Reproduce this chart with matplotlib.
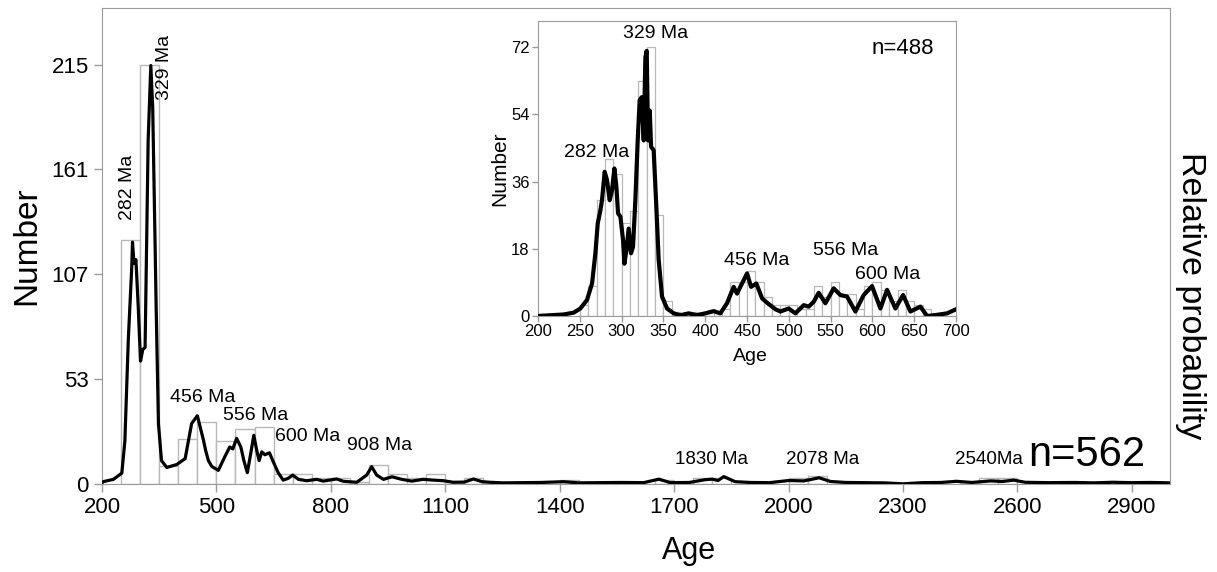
import matplotlib
matplotlib.use('Agg')
import matplotlib.pyplot as plt

plt.rcParams['font.family'] = ['Liberation Sans', 'DejaVu Sans']

# histogram principal (classes de 50 Ma, borda esquerda)
main_bin_left = [250, 300, 350, 400, 450, 500, 550, 600, 650, 700, 750, 800, 850, 900,
                 950, 1000, 1050, 1100, 1150, 1200, 1400, 1650, 1750, 1800, 2000, 2050,
                 2450, 2500, 2550]
main_counts = [125, 215, 9, 23, 32, 22, 28, 29, 5, 5, 3, 3, 1, 10,
               5, 3, 5, 1, 3, 1, 2, 2, 3, 3, 3, 4,
               1, 3, 3]

# curva de probabilidade relativa (escala do eixo Number)
main_curve_age = [200, 203, 230, 252, 260, 269, 278, 280, 284, 289, 295, 301, 307, 313,
                  321, 328, 333, 342, 348, 356, 370, 396, 418, 435, 450, 466, 472, 479,
                  488, 505, 522, 535, 543, 553, 564, 572, 581, 590, 598, 606, 612, 619,
                  627, 639, 649, 662, 675, 688, 700, 715, 737, 763, 780, 815, 833, 868,
                  894, 907, 920, 938, 960, 986, 1012, 1042, 1069, 1095, 1121, 1150, 1174,
                  1196, 1217, 1250, 1300, 1350, 1410, 1450, 1500, 1560, 1620, 1660, 1690,
                  1740, 1780, 1800, 1815, 1830, 1860, 1900, 1950, 2000, 2040, 2080, 2110,
                  2150, 2200, 2250, 2300, 2350, 2400, 2440, 2480, 2530, 2560, 2590, 2620,
                  2680, 2750, 2800, 2850, 2900, 2950, 3000]
main_curve_val = [0.5, 1.2, 2.4, 5.6, 22, 74, 111, 124, 113, 115, 91, 63, 69, 70,
                  176, 214.5, 193, 91, 31, 12, 8.5, 10, 13, 31, 35, 22.5, 17, 12,
                  9, 7, 14, 19, 18, 23.4, 19, 12, 5.8, 15.7, 25, 17, 12, 16.5,
                  15, 16, 11.4, 5.8, 2, 2.9, 4.6, 2.4, 1.7, 2.4, 1.5, 2.6, 1.4, 0.9,
                  4.6, 8.9, 4.6, 2.4, 3.7, 2.4, 1.5, 2.4, 2, 1.7, 0.9, 1.0, 2.6,
                  1.2, 0.9, 0.6, 0.7, 0.8, 1.2, 0.6, 0.7, 0.8, 0.7, 2.5, 0.7,
                  0.8, 2.2, 2.5, 1.8, 3.8, 1.2, 0.8, 0.7, 1.8, 1.6, 3.2, 1.3,
                  0.8, 0.7, 0.6, 0.1, 0.7, 0.8, 1.4, 0.8, 1.6, 1.3, 2.0, 0.9,
                  0.7, 0.8, 0.6, 0.9, 0.7, 0.8, 0.6]

main_yticks = [0, 53.75, 107.5, 161.25, 215]
main_yticklabels = ['0', '53', '107', '161', '215']
main_xticks = [200, 500, 800, 1100, 1400, 1700, 2000, 2300, 2600, 2900]

# detalhe 200-700 Ma (classes de 10 Ma)
inset_bin_left = [250, 260, 270, 280, 290, 300, 310, 320, 330, 340, 350, 360, 380, 390,
                  400, 410, 420, 430, 440, 450, 460, 470, 480, 490, 500, 510, 520, 530,
                  540, 550, 560, 570, 580, 590, 600, 610, 620, 630, 640, 650, 660]
inset_counts = [3, 8, 31, 42, 38, 25, 28, 63, 72, 27, 4, 1, 1, 1,
                1, 1, 2, 9, 9, 12, 9, 5, 3, 3, 3, 2, 2, 8,
                5, 9, 6, 6, 2, 8, 9, 7, 4, 7, 4, 3, 2]

inset_curve_age = [200, 230.7, 242.7, 250.6, 258.6, 264.6, 268.6, 271.4, 274.6, 276.5,
                   279.7, 282.5, 285.7, 288.5, 291.3, 293.7, 295.7, 298.5, 301.7, 303.3,
                   305.7, 308.4, 311.2, 313.6, 316.4, 319.2, 321.6, 324, 326.4, 328.4,
                   330, 331.6, 333.6, 335.2, 338.3, 341.5, 344.3, 348.3, 354.3, 362.3,
                   370.2, 380.2, 390.2, 400.1, 410.1, 418, 426, 434, 438, 444, 450,
                   454.8, 461.1, 468, 474.7, 483.9, 489.9, 499.8, 507.8, 517.8, 523.7,
                   529.7, 535.7, 543.7, 553.6, 561.6, 569.6, 579.6, 589.5, 599.5, 609.5,
                   617.4, 627.4, 636.6, 645.4, 657.3, 665.3, 677.2, 689.2, 700]
inset_curve_val = [0, 0.4, 0.9, 2, 4.3, 8.7, 16.8, 24.8, 28.3, 31,
                   38.6, 36.4, 31, 33.7, 39.5, 34.6, 27.5, 26.6, 20.3, 14,
                   17.6, 23.4, 16.8, 18.5, 31, 47, 57.8, 58.6, 47, 69.3,
                   71, 47, 55, 45.3, 44.4, 29.2, 15, 5.2, 2, 0.7,
                   0.2, 0.7, 0.2, 0.7, 1.3, 0.7, 3.4, 7.8, 6, 8.7, 11.4,
                   7.8, 8.7, 4.7, 3.4, 1.8, 1.2, 2, 0.7, 2.9, 2.5,
                   3.8, 6.2, 3.4, 7.4, 5.6, 5.2, 1.2, 5.6, 8, 2,
                   7, 2, 5.6, 1.2, 2.5, 0, 0.3, 0.7, 1.8]

inset_yticks = [0, 18, 36, 54, 72]
inset_xticks = [200, 250, 300, 350, 400, 450, 500, 550, 600, 650, 700]

frame_color = '#9a9a9a'
bar_edge = '#b8b8b8'

fig = plt.figure(figsize=(12.17, 5.72), dpi=100)

# --- grafico principal ---
ax = fig.add_axes([0.0838, 0.1538, 0.8776, 0.8322])
ax.bar(main_bin_left, main_counts, width=50, align='edge', color='white',
       edgecolor=bar_edge, linewidth=1.0, zorder=1)
ax.plot(main_curve_age, main_curve_val, color='black', linewidth=2.3, zorder=3)
ax.set_xlim(200, 3000)
ax.set_ylim(0, 244)
ax.set_xticks(main_xticks)
ax.set_yticks(main_yticks)
ax.set_yticklabels(main_yticklabels)
ax.tick_params(axis='both', labelsize=16, color=frame_color, length=6, width=1)
for s in ax.spines.values():
    s.set_color(frame_color)
ax.set_ylabel('Number', fontsize=24)
ax.yaxis.set_label_coords(-0.056, 0.5)
ax.set_xlabel('Age', fontsize=22)
ax.xaxis.set_label_coords(0.55, -0.11)
fig.text(0.978, 0.484, 'Relative probability', fontsize=24.5, rotation=270,
         ha='center', va='center')

ax.text(267, 152, '282 Ma', fontsize=14, rotation=90, ha='center', va='center')
ax.text(363, 213.5, '329 Ma', fontsize=14, rotation=90, ha='center', va='center')
ax.text(465, 44.5, '456 Ma', fontsize=14, ha='center', va='center')
ax.text(604, 35, '556 Ma', fontsize=14, ha='center', va='center')
ax.text(740, 24.6, '600 Ma', fontsize=14, ha='center', va='center')
ax.text(929, 20, '908 Ma', fontsize=14, ha='center', va='center')
ax.text(1797, 12.8, '1830 Ma', fontsize=13.5, ha='center', va='center')
ax.text(2088, 12.8, '2078 Ma', fontsize=13.5, ha='center', va='center')
ax.text(2526, 12.8, '2540Ma', fontsize=13.5, ha='center', va='center')
ax.text(2783, 15, 'n=562', fontsize=30, ha='center', va='center')

# --- detalhe ---
ins = fig.add_axes([0.4421, 0.4476, 0.3435, 0.5157])
ins.bar(inset_bin_left, inset_counts, width=10, align='edge', color='white',
        edgecolor=bar_edge, linewidth=0.9, zorder=1)
ins.plot(inset_curve_age, inset_curve_val, color='black', linewidth=3.0, zorder=3)
ins.set_xlim(200, 700)
ins.set_ylim(0, 79)
ins.set_xticks(inset_xticks)
ins.set_yticks(inset_yticks)
ins.tick_params(axis='both', labelsize=12, color=frame_color, length=4, width=1, pad=2)
for s in ins.spines.values():
    s.set_color(frame_color)
ins.set_ylabel('Number', fontsize=15)
ins.yaxis.set_label_coords(-0.068, 0.5)
ins.set_xlabel('Age', fontsize=14)
ins.xaxis.set_label_coords(0.507, -0.11)

ins.text(340, 75.6, '329 Ma', fontsize=14, ha='center', va='center')
ins.text(270, 43.9, '282 Ma', fontsize=14, ha='center', va='center')
ins.text(462, 14.9, '456 Ma', fontsize=14, ha='center', va='center')
ins.text(568, 17.6, '556 Ma', fontsize=14, ha='center', va='center')
ins.text(618, 11, '600 Ma', fontsize=14, ha='center', va='center')
ins.text(636, 71.6, 'n=488', fontsize=16, ha='center', va='center')

fig.savefig('out.png', dpi=100)
